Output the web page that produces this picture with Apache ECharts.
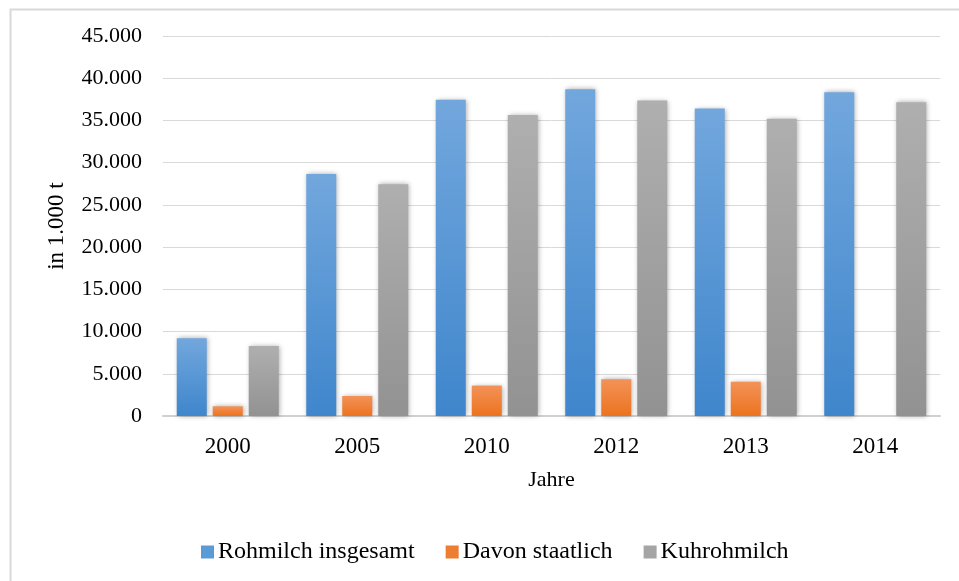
<!DOCTYPE html>
<html>
<head>
<meta charset="utf-8">
<script src="https://cdn.jsdelivr.net/npm/echarts@6/dist/echarts.min.js"></script>
<style>
  html, body { margin: 0; padding: 0; background: #ffffff; }
  #chart { width: 959px; height: 581px; }
</style>
</head>
<body>
<div id="chart"></div>
<script>
// Rohmilcherzeugung nach Jahren (in 1.000 t)
const years = ['2000', '2005', '2010', '2012', '2013', '2014'];
const rohmilchInsgesamt = [9200, 28650, 37450, 38700, 36400, 38350];
const davonStaatlich = [1150, 2370, 3600, 4350, 4050, null];
const kuhrohmilch = [8300, 27450, 35650, 37350, 35200, 37150];
const yTicks = [0, 5000, 10000, 15000, 20000, 25000, 30000, 35000, 40000, 45000];

const serif = '"Liberation Serif", "Times New Roman", serif';

function thousands(v) {
  return String(v).replace(/\B(?=(\d{3})+(?!\d))/g, '.');
}

function grad(top, bottom) {
  return new echarts.graphic.LinearGradient(0, 0, 0, 1, [
    { offset: 0, color: top },
    { offset: 1, color: bottom }
  ]);
}

function barSeries(name, data, top, bottom) {
  return {
    name: name,
    type: 'bar',
    data: data,
    barWidth: 30,
    barGap: '20%',
    itemStyle: {
      color: grad(top, bottom),
      shadowBlur: 5,
      shadowColor: 'rgba(0,0,0,0.35)',
      shadowOffsetX: 1
    },
    emphasis: { disabled: true }
  };
}

const chart = echarts.init(document.getElementById('chart'), null, { renderer: 'canvas' });

chart.setOption({
  animation: false,
  backgroundColor: '#ffffff',
  textStyle: { fontFamily: serif, color: '#000000' },
  graphic: [{
    type: 'rect',
    left: 8,
    top: 7,
    shape: { x: 0, y: 0, width: 970, height: 590 },
    style: { fill: 'none', stroke: '#d9d9d9', lineWidth: 2 },
    silent: true,
    z: -1
  }],
  grid: { left: 163, right: 19, top: 36, bottom: 165, containLabel: false },
  legend: {
    left: 196,
    top: 535,
    itemWidth: 13,
    itemHeight: 13,
    itemGap: 31,
    icon: 'rect',
    textStyle: { fontFamily: serif, fontSize: 24, color: '#000000', padding: [0, 0, 0, -1] },
    data: [
      { name: 'Rohmilch insgesamt', itemStyle: { color: '#5b9bd5' } },
      { name: 'Davon staatlich', itemStyle: { color: '#ed7d31' } },
      { name: 'Kuhrohmilch', itemStyle: { color: '#a5a5a5' } }
    ]
  },
  xAxis: {
    type: 'category',
    data: years,
    name: 'Jahre',
    nameLocation: 'middle',
    nameGap: 53,
    nameTextStyle: { fontFamily: serif, fontSize: 22, color: '#000000' },
    axisLine: { lineStyle: { color: '#d0d0d0', width: 2 } },
    axisTick: { show: false },
    axisLabel: { fontFamily: serif, fontSize: 23, color: '#000000', margin: 19 }
  },
  yAxis: {
    type: 'value',
    min: yTicks[0],
    max: yTicks[yTicks.length - 1],
    interval: yTicks[1] - yTicks[0],
    name: 'in 1.000 t',
    nameLocation: 'middle',
    nameRotate: 90,
    nameGap: 95,
    nameTextStyle: { fontFamily: serif, fontSize: 23, color: '#000000' },
    axisLine: { show: false },
    axisTick: { show: false },
    splitLine: { lineStyle: { color: '#d9d9d9', width: 1 } },
    axisLabel: {
      fontFamily: serif,
      fontSize: 22,
      color: '#000000',
      margin: 21,
      formatter: function (v) { return thousands(v); }
    }
  },
  series: [
    barSeries('Rohmilch insgesamt', rohmilchInsgesamt, '#72a7dd', '#3f86cc'),
    barSeries('Davon staatlich', davonStaatlich, '#f39258', '#ec731f'),
    barSeries('Kuhrohmilch', kuhrohmilch, '#afafaf', '#929292')
  ]
});
</script>
</body>
</html>
